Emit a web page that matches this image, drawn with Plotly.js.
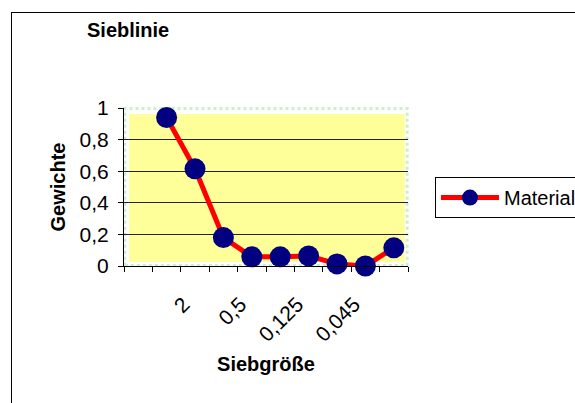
<!DOCTYPE html>
<html>
<head>
<meta charset="utf-8">
<script src="https://cdn.plot.ly/plotly-3.0.1.min.js"></script>
<style>
html,body{margin:0;padding:0;background:#fff;overflow:hidden;width:575px;height:403px;}
#frame{position:absolute;left:11px;top:12px;width:640px;height:440px;border-left:1px solid #000;border-top:1px solid #000;}
#chart{width:620px;height:420px;}
</style>
</head>
<body>
<div id="frame"><div id="chart"></div></div>
<script>
// Data
const categoryIndex = [0, 1, 2, 3, 4, 5, 6, 7, 8, 9];
const materialValues = [null, 0.94, 0.615, 0.18, 0.058, 0.058, 0.064, 0.013, 0.0, 0.115];
const labelPositions = [2, 4, 6, 8];
const tickLabels = ["2", "0,5", "0,125", "0,045"];
const categoryBoundaries = [-0.5, 0.5, 1.5, 2.5, 3.5, 4.5, 5.5, 6.5, 7.5, 8.5, 9.5];
const yTicks = [0, 0.2, 0.4, 0.6, 0.8, 1];
const yTickText = ["0", "0,2", "0,4", "0,6", "0,8", "1"];
const gridValues = [0.2, 0.4, 0.6, 0.8];
const seriesName = "Material";

const FONT = "Arial, 'Liberation Sans', sans-serif";

const trace = {
  x: categoryIndex,
  y: materialValues,
  name: seriesName,
  type: "scatter",
  mode: "lines+markers",
  line: {color: "#FF0000", width: 5},
  marker: {color: "#000080", size: 21, line: {width: 0}},
  cliponaxis: false,
  showlegend: true
};

const layout = {
  width: 620, height: 420,
  margin: {l: 112, r: 224, t: 95, b: 167, pad: 0},
  paper_bgcolor: "#fff",
  plot_bgcolor: "#fff",
  font: {family: FONT, size: 20, color: "#000"},
  title: {
    text: "<b>Sieblinie</b>",
    font: {family: FONT, size: 20, color: "#000"},
    x: 75/620, xref: "container", xanchor: "left",
    y: 1 - 17/420, yref: "container", yanchor: "middle"
  },
  xaxis: {
    range: [-0.5, 9.5],
    tickmode: "array",
    tickvals: categoryBoundaries,
    showticklabels: false,
    ticks: "outside", ticklen: 5, tickcolor: "#000", tickwidth: 1,
    showline: true, linecolor: "#000", linewidth: 1,
    showgrid: false, zeroline: false,
    title: {text: "<b>Siebgröße</b>", font: {family: FONT, size: 20}, standoff: 85},
    automargin: false
  },
  xaxis2: {
    overlaying: "x", anchor: "y", side: "bottom",
    range: [-0.1, 9.9],
    tickmode: "array",
    tickvals: labelPositions,
    ticktext: tickLabels,
    tickangle: -45,
    ticks: "", showline: false, showgrid: false, zeroline: false,
    tickfont: {family: FONT, size: 21},
    ticklabelstandoff: 21,
    automargin: false
  },
  yaxis: {
    range: [0, 1],
    tickmode: "array",
    tickvals: yTicks,
    ticktext: yTickText,
    ticks: "outside", ticklen: 5, tickcolor: "#000", tickwidth: 1,
    showline: true, linecolor: "#000", linewidth: 1,
    showgrid: false, zeroline: false,
    tickfont: {family: FONT, size: 21},
    ticklabelstandoff: 5,
    title: {text: "<b>Gewichte</b>", font: {family: FONT, size: 20}, standoff: 8},
    automargin: false
  },
  yaxis2: {
    overlaying: "y", anchor: "x", side: "left",
    range: [0, 1],
    tickmode: "array",
    tickvals: gridValues,
    showticklabels: false, ticks: "",
    showgrid: true, gridcolor: "#222", gridwidth: 1,
    showline: false, zeroline: false
  },
  shapes: [
    {type: "rect", xref: "x domain", yref: "y domain", x0: 0.003, x1: 0.997, y0: 0.003, y1: 0.997,
     line: {color: "#cdeecd", width: 3, dash: "dot"}, fillcolor: "rgba(0,0,0,0)", layer: "below"},
    {type: "rect", xref: "x domain", yref: "y domain", x0: 0.018, x1: 0.989, y0: 0.025, y1: 0.962,
     line: {width: 0}, fillcolor: "#FFFF99", layer: "below"}
  ],
  showlegend: true,
  legend: {
    x: 1.095, xanchor: "left", y: 0.563, yanchor: "top",
    bgcolor: "#fff", bordercolor: "#000", borderwidth: 1,
    font: {family: FONT, size: 20},
    itemwidth: 58,
    tracegroupgap: 0
  }
};

// empty helper trace that activates the overlay axes (labels / gridlines)
const gridTrace = {x: [null], y: [null], xaxis: "x2", yaxis: "y2", showlegend: false, hoverinfo: "skip", type: "scatter", mode: "lines"};

Plotly.newPlot("chart", [gridTrace, trace], layout, {displayModeBar: false, staticPlot: true});
</script>
</body>
</html>
